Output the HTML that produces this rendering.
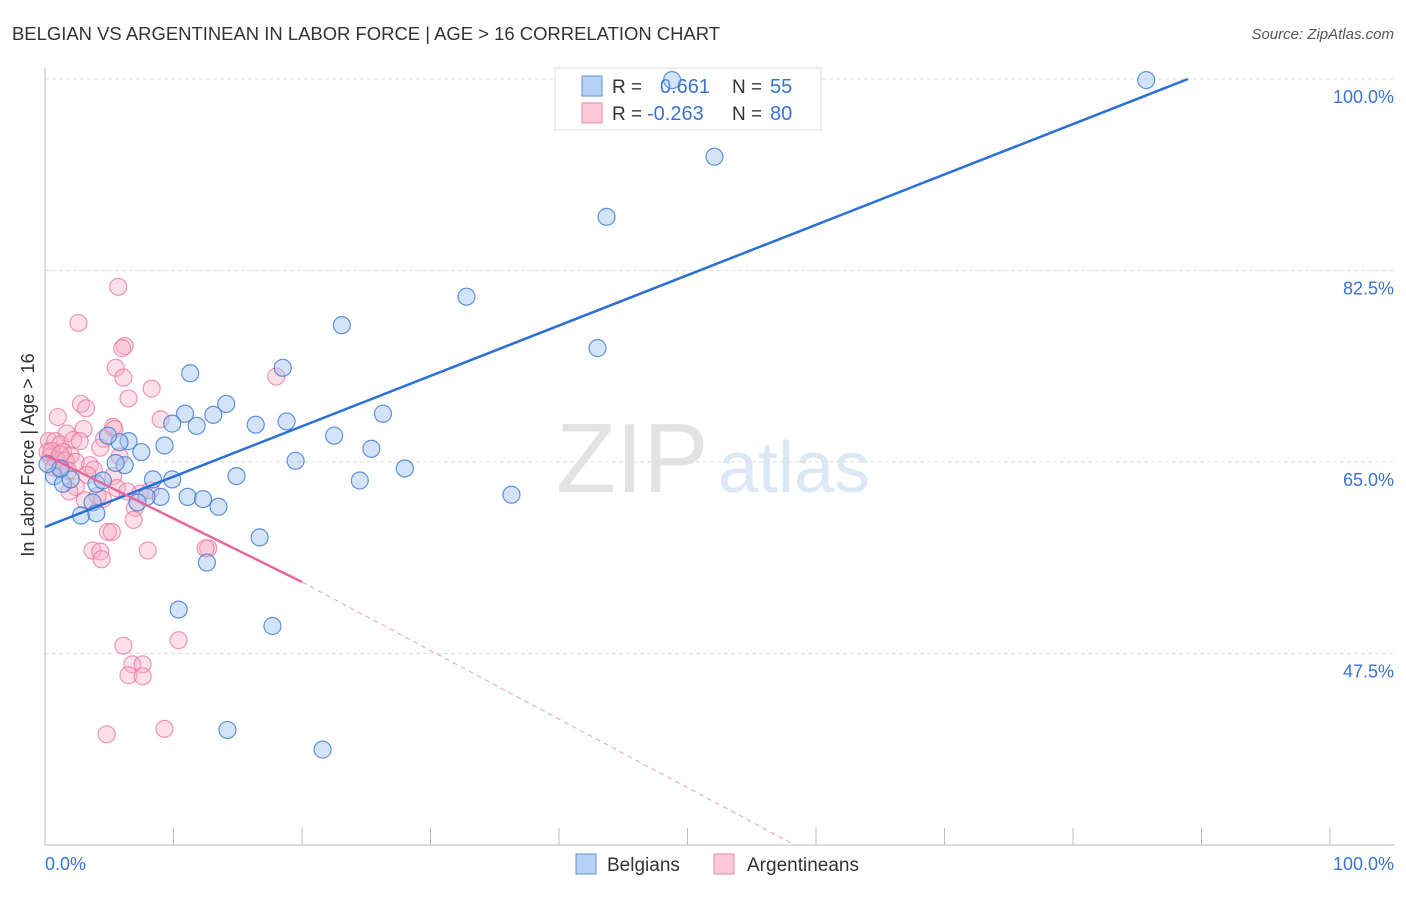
<!DOCTYPE html>
<html><head><meta charset="utf-8"><style>
body{margin:0;background:#fff;font-family:"Liberation Sans",sans-serif}
svg text{font-family:"Liberation Sans",sans-serif}
</style></head><body>
<svg id="chart" width="1406" height="892">
<text x="12" y="40" font-size="18" fill="#333" textLength="708" lengthAdjust="spacingAndGlyphs">BELGIAN VS ARGENTINEAN IN LABOR FORCE | AGE &gt; 16 CORRELATION CHART</text>
<text x="1394" y="39" font-size="15" fill="#555" font-style="italic" text-anchor="end">Source: ZipAtlas.com</text>
<text x="556" y="492" font-size="98" fill="#e3e3e3" font-family="Liberation Serif">ZIP</text>
<text x="718" y="492" font-size="72" fill="#dce8f5">atlas</text>
<g id="grid"></g>
<g id="axes"></g>
<g>
<rect x="555" y="68" width="266" height="62" fill="#fff" stroke="#ddd"/>
<rect x="582" y="76" width="20" height="20" fill="#b8d2f5" stroke="#5b8fd8"/>
<rect x="582" y="103" width="20" height="20" fill="#fbc9d8" stroke="#e889a7"/>
<text x="612" y="93" font-size="19" fill="#333">R =</text><text x="660" y="93" font-size="20" fill="#3a74d0">0.661</text>
<text x="732" y="93" font-size="19" fill="#333">N =</text><text x="770" y="93" font-size="20" fill="#3a74d0">55</text>
<text x="612" y="120" font-size="19" fill="#333">R =</text><text x="647" y="120" font-size="20" fill="#3a74d0">-0.263</text>
<text x="732" y="120" font-size="19" fill="#333">N =</text><text x="770" y="120" font-size="20" fill="#3a74d0">80</text>
</g>
<g id="pts"></g>
<g id="lines"></g>
<text transform="translate(34,455) rotate(-90)" font-size="18" fill="#333" text-anchor="middle">In Labor Force | Age &gt; 16</text>
<text x="45" y="870" font-size="18" fill="#3a74d0">0.0%</text>
<text x="1394" y="870" font-size="18" fill="#3a74d0" text-anchor="end">100.0%</text>
<g>
<rect x="576" y="854" width="20" height="20" fill="#b8d2f5" stroke="#5b8fd8"/>
<text x="607" y="871" font-size="19" fill="#333">Belgians</text>
<rect x="714" y="854" width="20" height="20" fill="#fbc9d8" stroke="#e889a7"/>
<text x="747" y="871" font-size="19" fill="#333">Argentineans</text>
</g>
</svg>
<script>
const yTicks=[100,82.5,65,47.5];
const yTickLabels=["100.0%","82.5%","65.0%","47.5%"];
const blueX=[85.7,52.1,43.7,32.8,23.1,43.0,11.3,18.5,14.1,10.9,13.1,9.9,11.8,16.4,18.8,26.3,22.5,25.4,9.3,6.5,5.8,4.9,7.5,19.5,28.0,6.2,5.5,24.5,14.9,9.9,8.4,0.7,1.4,2.0,4.0,4.5,36.3,11.1,9.0,7.9,7.2,12.3,13.5,3.7,2.8,4.0,16.7,12.6,10.4,17.7,14.2,21.6,48.8,1.2,0.2];
const blueY=[99.9,92.9,87.4,80.1,77.5,75.4,73.1,73.6,70.3,69.4,69.3,68.5,68.3,68.4,68.7,69.4,67.4,66.2,66.5,66.9,66.8,67.4,65.9,65.1,64.4,64.7,64.9,63.3,63.7,63.4,63.4,63.7,63.0,63.4,63.0,63.3,62.0,61.8,61.8,61.8,61.3,61.6,60.9,61.3,60.1,60.3,58.1,55.8,51.5,50.0,40.5,38.7,99.9,64.4,64.8];
const pinkX=[5.7,2.6,6.2,6.0,5.5,18.0,6.1,8.3,6.5,2.8,3.2,1.0,9.0,5.3,5.4,3.0,1.7,0.3,0.8,1.2,2.2,2.7,4.6,4.3,1.4,2.0,0.4,0.9,1.6,2.4,3.5,3.8,0.7,1.2,1.8,5.8,5.3,3.3,5.6,2.4,1.9,4.5,3.1,4.1,8.2,7.4,6.4,7.0,6.9,4.9,5.2,3.7,4.3,8.0,12.7,12.5,4.4,6.1,10.4,6.8,7.6,6.5,7.6,4.8,9.3,0.2,0.5,1.2];
const pinkY=[81.0,77.7,75.6,75.4,73.6,72.8,72.7,71.7,70.8,70.3,69.9,69.1,68.9,68.2,68.0,68.0,67.6,66.9,66.9,66.6,67.0,66.9,67.1,66.3,65.9,65.6,65.5,65.2,65.1,65.0,64.7,64.3,64.5,64.3,64.2,65.5,63.7,63.8,62.6,62.7,62.3,61.6,61.5,61.9,62.4,62.1,62.3,60.8,59.7,58.6,58.6,56.9,56.8,56.9,57.1,57.1,56.1,48.2,48.7,46.5,46.5,45.5,45.4,40.1,40.6,65.9,66.0,65.7];
const X0=45,X1=1330,Y100=79,PX=10.94;
const xs=v=>X0+(X1-X0)*v/100, ys=v=>Y100+(100-v)*PX;
const NS="http://www.w3.org/2000/svg";
function mk(tag,attrs,parent){const e=document.createElementNS(NS,tag);for(const k in attrs)e.setAttribute(k,attrs[k]);parent.appendChild(e);return e;}
const grid=document.getElementById('grid'),axes=document.getElementById('axes'),pts=document.getElementById('pts'),lines=document.getElementById('lines');
yTicks.forEach((t,i)=>{
 const l=mk('line',{x1:45,x2:1394,y1:ys(t),y2:ys(t),stroke:'#ddd','stroke-dasharray':'4,3'},grid);
 
 
 const tx=mk('text',{x:1394,y:ys(t)+24,'font-size':18,fill:'#3a74d0','text-anchor':'end'},grid);
 tx.textContent=yTickLabels[i];
 
 
});
let a=mk('line',{x1:45,x2:1394,y1:845,y2:845,stroke:'#bbb'},axes);


a=mk('line',{x1:45,x2:45,y1:68,y2:845,stroke:'#bbb'},axes);


for(let i=0;i<=10;i++){const t=mk('line',{x1:xs(i*10),x2:xs(i*10),y1:828,y2:845,stroke:'#bbb'},axes);
 
 }
pinkX.forEach((x,i)=>{const c=mk('circle',{cx:xs(x),cy:ys(pinkY[i]),r:8.5,fill:'rgba(248,170,195,0.38)',stroke:'rgba(232,120,155,0.75)','stroke-width':1.2},pts);
 
 });
blueX.forEach((x,i)=>{const c=mk('circle',{cx:xs(x),cy:ys(blueY[i]),r:8.5,fill:'rgba(160,195,240,0.45)',stroke:'rgba(60,120,210,0.8)','stroke-width':1.2},pts);
 
 });
let ln=mk('line',{x1:xs(0),y1:527,x2:1188,y2:79,stroke:'#2a6fd6','stroke-width':2.5},lines);


ln=mk('line',{x1:xs(0),y1:455,x2:302,y2:582,stroke:'#e8679a','stroke-width':2.5},lines);


ln=mk('line',{x1:302,y1:582,x2:795,y2:845,stroke:'#e8a0bb','stroke-width':1,'stroke-dasharray':'5,4'},lines);


</script>
</body></html>
